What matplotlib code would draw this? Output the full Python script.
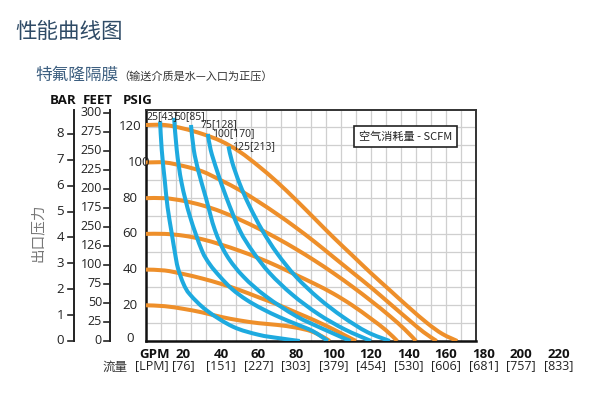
import matplotlib
matplotlib.use("Agg")
import matplotlib.pyplot as plt
import matplotlib.transforms as mtransforms
from matplotlib.path import Path
from matplotlib.patches import PathPatch

# ---------------- data ----------------
gpm_ticks = [20, 40, 60, 80, 100, 120, 140, 160, 180, 200, 220]
lpm_labels = ["[76]", "[151]", "[227]", "[303]", "[379]", "[454]", "[530]",
              "[606]", "[681]", "[757]", "[833]"]
bar_ticks = [0, 1, 2, 3, 4, 5, 6, 7, 8]
feet_ticks = [0, 25, 50, 75, 100, 125, 150, 175, 200, 225, 250, 275, 300]
feet_labels = ["0", "25", "50", "75", "100", "126", "250", "175", "200",
               "225", "250", "275", "300"]
psig_ticks = [0, 20, 40, 60, 80, 100, 120]

# air inlet pressure curves (orange): (GPM, PSI) points
p120_gpm = [0, 10, 20, 30, 40, 50, 60, 70, 80, 90, 100, 110, 120, 130, 140, 150, 158, 166]
p120_psi = [121, 121, 119, 116, 112, 106, 98, 89, 79, 68.5, 58, 48, 38, 28.5, 19, 10, 4, 0]
p100_gpm = [0, 10, 20, 30, 40, 50, 60, 70, 80, 90, 100, 110, 120, 130, 140, 148, 155]
p100_psi = [100, 100, 98, 95, 90, 84.5, 78, 71, 63.5, 55.5, 47, 38.5, 30, 21, 12, 5, 0]
p80_gpm = [0, 10, 20, 30, 40, 50, 60, 70, 80, 90, 100, 110, 120, 130, 138, 144]
p80_psi = [80, 80, 78.5, 76, 72.5, 68, 63, 57.5, 51.5, 45, 38, 30.5, 22.5, 14, 6.5, 0]
p60_gpm = [0, 10, 20, 30, 40, 50, 60, 70, 80, 90, 100, 110, 120, 128, 134]
p60_psi = [60, 60, 59, 57, 54, 50.5, 46.5, 42, 37, 32, 26.5, 20, 12.5, 6, 0]
p40_gpm = [0, 10, 20, 30, 40, 50, 60, 70, 80, 90, 100, 106, 112]
p40_psi = [40, 39.5, 37.5, 35, 32, 28.5, 24.5, 20.5, 16, 11.5, 6.5, 3.2, 0]
p20_gpm = [0, 10, 20, 30, 40, 50, 60, 70, 80, 88, 94, 98]
p20_psi = [20, 19.5, 18, 16, 13.5, 11.5, 10, 9, 7.5, 5.5, 2.5, 0]

# air consumption curves (blue), SCFM
s25_gpm = [7.5, 8.4, 10, 11.5, 13.7, 15.5, 17, 20, 23.5, 32.5, 46.4, 60, 71.5, 82]
s25_psi = [123, 107, 90, 75, 60.5, 49, 41, 32, 26, 17, 8, 3.5, 1.5, 0]
s50_gpm = [15, 16.4, 19, 23.5, 29.7, 34, 39.5, 46, 53.7, 62, 71.5, 80, 89, 97]
s50_psi = [125, 107, 88.5, 69.6, 51, 43, 36, 29, 23, 18, 13.2, 9.5, 5.5, 0]
s75_gpm = [24, 25.5, 28, 32, 36.8, 43, 52, 64, 80, 95, 109]
s75_psi = [121, 107, 95, 80, 62, 48, 36, 25, 14, 6.5, 0]
s100_gpm = [33, 34.5, 38, 43, 50, 57, 66, 78, 92, 106, 120]
s100_psi = [116, 107, 95, 80, 62, 50, 38, 26, 15, 6.5, 0]
s125_gpm = [44, 46, 50, 55, 62, 70, 80, 92, 105, 118, 130]
s125_psi = [109, 100, 88, 76, 62, 49, 36, 24, 13.5, 5, 0]

scfm_labels = ["25[43]", "50[85]", "75[128]", "100[170]", "125[213]"]

# ---------------- figure ----------------
W, H = 600, 396
fig = plt.figure(figsize=(6.0, 3.96), dpi=100)
fig.patch.set_facecolor("white")

LAT = ["Open Sans", "Noto Sans CJK SC", "DejaVu Sans"]
CJK = ["Noto Sans CJK SC", "DejaVu Sans"]

left, right, top, bottom = 146, 476, 110, 341
ax = fig.add_axes([left / W, 1 - bottom / H, (right - left) / W, (bottom - top) / H])
XMAX, YMAX = 176, 129.4
ax.set_xlim(0, XMAX)
ax.set_ylim(0, YMAX)
ax.set_xticks([])
ax.set_yticks([])

# grid
for gx in range(8, 176, 8):
    ax.axvline(gx, color="#cfcfcf", lw=0.9, zorder=1)
for gy in range(10, 130, 10):
    ax.axhline(gy, color="#cfcfcf", lw=0.9, zorder=1)

for s in ["left", "bottom"]:
    ax.spines[s].set_linewidth(1.8)
    ax.spines[s].set_color("#111111")
for s in ["top", "right"]:
    ax.spines[s].set_linewidth(1.4)
    ax.spines[s].set_color("#333333")


def smooth_curve(xs, ys, color, z):
    """Draw a smooth curve through the data points (Catmull-Rom as cubic Beziers)."""
    pts = list(zip(xs, ys))
    n = len(pts)
    verts = [pts[0]]
    codes = [Path.MOVETO]
    for i in range(n - 1):
        p0 = pts[i - 1] if i > 0 else pts[i]
        p1 = pts[i]
        p2 = pts[i + 1]
        p3 = pts[i + 2] if i + 2 < n else pts[i + 1]
        c1 = (p1[0] + (p2[0] - p0[0]) / 6.0, p1[1] + (p2[1] - p0[1]) / 6.0)
        c2 = (p2[0] - (p3[0] - p1[0]) / 6.0, p2[1] - (p3[1] - p1[1]) / 6.0)
        verts += [c1, c2, p2]
        codes += [Path.CURVE4] * 3
    patch = PathPatch(Path(verts, codes), fc="none", ec=color, lw=2.9,
                      capstyle="butt", zorder=z, transform=ax.transData)
    ax.add_patch(patch)


orange = "#ee8f2a"
blue = "#1eaadf"
for xs, ys in [(p120_gpm, p120_psi), (p100_gpm, p100_psi), (p80_gpm, p80_psi),
               (p60_gpm, p60_psi), (p40_gpm, p40_psi), (p20_gpm, p20_psi)]:
    smooth_curve(xs, ys, orange, 3)
for xs, ys in [(s25_gpm, s25_psi), (s50_gpm, s50_psi), (s75_gpm, s75_psi),
               (s100_gpm, s100_psi), (s125_gpm, s125_psi)]:
    smooth_curve(xs, ys, blue, 4)

# curve labels (left x in GPM, y in PSI)
lab_pos = [(0.0, 125.6), (15.2, 125.6), (29.0, 121.4), (35.0, 116.0), (46.0, 108.8)]
for t, (lx, ly) in zip(scfm_labels, lab_pos):
    ax.text(lx, ly, t, fontsize=7.5, family=LAT, ha="left", va="center",
            color="#222222", zorder=6, clip_on=False)

# legend box
ax.text(138.4, 114.6, "空气消耗量 - SCFM", fontsize=8, family=CJK, ha="center",
        va="center", color="#222222", zorder=6,
        bbox=dict(boxstyle="square,pad=0.45", fc="white", ec="#222222", lw=1.2))

# ---------------- left scales ----------------
bt = mtransforms.blended_transform_factory(fig.transFigure, ax.transData)
PSI_PER_BAR = 14.5038
PSI_PER_FT = 0.4258

# BAR axis
bar_x = 74 / W
ax.plot([bar_x, bar_x], [0, YMAX], transform=bt, color="#222222", lw=1.4, clip_on=False)
for b in bar_ticks:
    yv = b * PSI_PER_BAR
    ax.plot([bar_x - 6 / W, bar_x], [yv, yv], transform=bt, color="#222222", lw=1.2,
            clip_on=False)
    ax.text(bar_x - 10 / W, yv, str(b), transform=bt, fontsize=9.5, family=LAT,
            ha="right", va="center", color="#222222", clip_on=False)

# FEET axis
ft_x = 110 / W
ax.plot([ft_x, ft_x], [0, YMAX], transform=bt, color="#222222", lw=1.4, clip_on=False)
for f, fl in zip(feet_ticks, feet_labels):
    yv = f * PSI_PER_FT
    ax.plot([ft_x - 6 / W, ft_x], [yv, yv], transform=bt, color="#222222", lw=1.2,
            clip_on=False)
    ax.text(ft_x - 8 / W, yv, fl, transform=bt, fontsize=9, family=LAT,
            ha="right", va="center", color="#222222", clip_on=False)

# PSIG labels
for p in psig_ticks:
    xoff = 139 if p == 100 else 130
    ax.text(xoff / W, p + (1.5 if p == 0 else 0), str(p), transform=bt, fontsize=9.5,
            family=LAT, ha="center", va="center", color="#222222", clip_on=False)

# headers
for txt, cx in [("BAR", 63), ("FEET", 97.5), ("PSIG", 137.5)]:
    fig.text(cx / W, 1 - 100 / H, txt, fontsize=9.5, family=LAT, fontweight="bold",
             ha="center", va="center", color="#111111")

# y label
fig.text(38 / W, 1 - 233 / H, "出口压力", fontsize=10.5, family=CJK, rotation=90,
         ha="center", va="center", color="#777777")

# ---------------- bottom labels ----------------
xt = mtransforms.blended_transform_factory(ax.transData, fig.transFigure)
fig.text(155 / W, 1 - 354 / H, "GPM", fontsize=9.5, family=LAT, fontweight="bold",
         ha="center", va="center", color="#111111")
fig.text(152 / W, 1 - 366 / H, "[LPM]", fontsize=9, family=LAT,
         ha="center", va="center", color="#222222")
fig.text(115 / W, 1 - 367 / H, "流量", fontsize=9, family=CJK,
         ha="center", va="center", color="#333333")
for g, l in zip(gpm_ticks, lpm_labels):
    ax.text(g, 1 - 354 / H, str(g), transform=xt, fontsize=9.5, family=LAT,
            fontweight="bold", ha="center", va="center", color="#111111", clip_on=False)
    ax.text(g, 1 - 366 / H, l, transform=xt, fontsize=9, family=LAT,
            ha="center", va="center", color="#222222", clip_on=False)

# ---------------- titles ----------------
fig.text(15 / W, 1 - 32 / H, "性能曲线图", fontsize=15.5, family=CJK,
         ha="left", va="center", color="#2f4b66")
fig.text(35 / W, 1 - 75 / H, "特氟隆隔膜", fontsize=12, family=CJK,
         ha="left", va="center", color="#3d5f80")
fig.text(118 / W, 1 - 76 / H, "（输送介质是水—入口为正压）", fontsize=8, family=CJK,
         ha="left", va="center", color="#333333")

fig.savefig("out.png", dpi=100, facecolor="white")
